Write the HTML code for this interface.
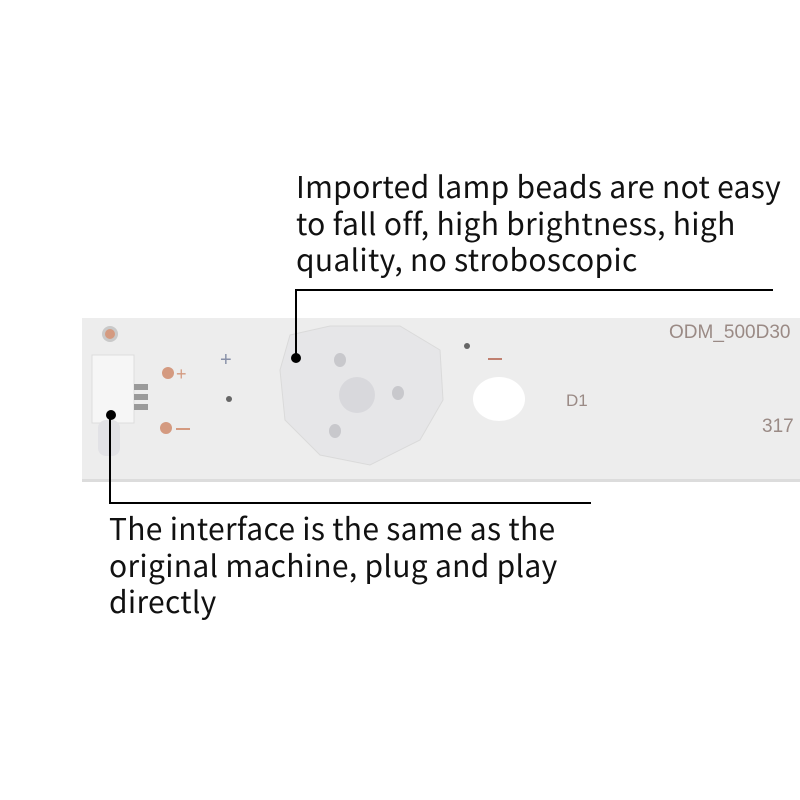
<!DOCTYPE html>
<html><head><meta charset="utf-8"><style>
body{margin:0;width:800px;height:800px;background:#fff;position:relative;overflow:hidden}
.t{position:absolute;font-family:"Noto Sans CJK SC","Liberation Sans",sans-serif;font-size:30px;letter-spacing:0.3px;line-height:36.5px;color:#111;white-space:nowrap}
.s{position:absolute;font-family:"Liberation Sans",sans-serif;color:#9a8a85}
</style></head><body>
<svg width="800" height="800" style="position:absolute;left:0;top:0">
<rect x="82" y="318" width="718" height="164" fill="#ededed"/>
<rect x="82" y="479" width="718" height="3" fill="#dcdcdc"/>
<circle cx="110" cy="334" r="8" fill="#c9c9c9"/><circle cx="110" cy="334" r="5" fill="#d49a80"/>
<rect x="92" y="355" width="42" height="68" fill="#f6f6f6" stroke="#ddd"/>
<rect x="98" y="420" width="22" height="36" rx="8" fill="#e2e2e6"/>
<rect x="134" y="384" width="14" height="6" fill="#9a9a9a"/>
<rect x="134" y="394" width="14" height="6" fill="#9a9a9a"/>
<rect x="134" y="404" width="14" height="6" fill="#9a9a9a"/>
<circle cx="168" cy="373" r="6" fill="#d49a80"/><circle cx="166" cy="428" r="6" fill="#d49a80"/>
<text x="176" y="380" font-size="18" fill="#d49a80" font-family="Liberation Sans">+</text>
<rect x="176" y="428" width="14" height="2" fill="#d49a80"/>
<text x="220" y="366" font-size="20" fill="#8890a8" font-family="Liberation Sans">+</text>
<circle cx="229" cy="399" r="3" fill="#666"/>
<circle cx="467" cy="346" r="3" fill="#666"/>
<rect x="488" y="358" width="14" height="2" fill="#c08070"/>
<path d="M290 335 L330 326 L400 326 L440 350 L443 400 L420 440 L370 465 L320 455 L285 420 L280 370 Z" fill="#e6e6e8" stroke="#dadada"/>
<circle cx="357" cy="395" r="18" fill="#d8d8dc"/>
<ellipse cx="340" cy="360" rx="6" ry="7" fill="#c8c8cc"/>
<ellipse cx="398" cy="393" rx="6" ry="7" fill="#c8c8cc"/>
<ellipse cx="335" cy="431" rx="6" ry="7" fill="#c8c8cc"/>
<ellipse cx="499" cy="399" rx="26" ry="22" fill="#fff"/>
<line x1="296" y1="357" x2="296" y2="290" stroke="#000" stroke-width="2"/>
<line x1="295" y1="290" x2="773" y2="290" stroke="#000" stroke-width="2"/>
<circle cx="296" cy="358" r="5" fill="#000"/>
<line x1="110" y1="415" x2="110" y2="503" stroke="#000" stroke-width="2"/>
<line x1="109" y1="503" x2="591" y2="503" stroke="#000" stroke-width="2"/>
<circle cx="111" cy="415" r="5" fill="#000"/>
</svg>
<div class="s" style="left:669px;top:322px;font-size:19px">ODM_500D30</div>
<div class="s" style="left:566px;top:391px;font-size:17px">D1</div>
<div class="s" style="left:762px;top:416px;font-size:19px">317</div>
<div class="t" style="left:296px;top:167px">Imported lamp beads are not easy<br>to fall off, high brightness, high<br>quality, no stroboscopic</div>
<div class="t" style="left:109px;top:509px">The interface is the same as the<br>original machine, plug and play<br>directly</div>
</body></html>
